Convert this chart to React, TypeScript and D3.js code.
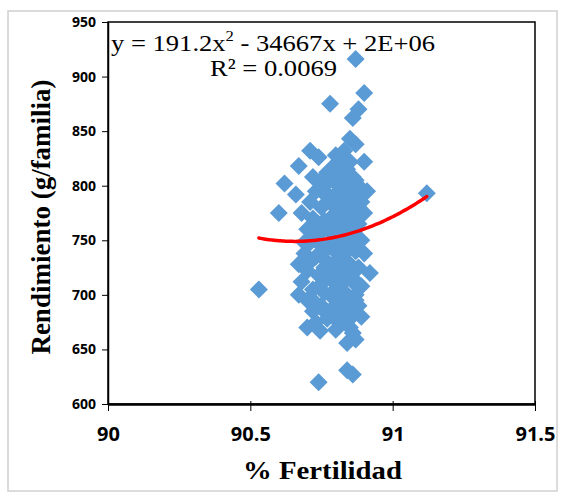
import React, { useEffect, useRef } from "react";
import * as d3 from "d3";

// % Fertilidad (x) vs Rendimiento g/familia (y)
const fertilidad = [
  90.87, 90.78, 90.9, 90.88, 90.86, 90.85, 90.87, 90.83, 90.71, 90.74, 90.9, 90.67, 90.8, 90.84, 90.77,
  90.62, 90.66, 90.6, 90.68, 90.72, 90.76, 90.79, 90.82, 90.86, 90.88, 90.91, 90.73, 90.78, 90.81, 90.84,
  90.87, 90.89, 90.71, 90.75, 90.79, 90.83, 90.86, 90.9, 90.72, 90.76, 90.8, 90.84, 90.88, 90.7, 90.74,
  90.78, 90.82, 90.86, 90.89, 90.71, 90.75, 90.79, 90.83, 90.87, 90.9, 90.69, 90.73, 90.77, 90.81, 90.85,
  90.88, 90.92, 90.67, 90.7, 90.74, 90.78, 90.82, 90.86, 90.89, 90.68, 90.72, 90.76, 90.8, 90.84, 90.87,
  90.67, 90.7, 90.75, 90.79, 90.83, 90.86, 90.89, 90.72, 90.77, 90.81, 90.85, 90.7, 90.745, 90.73, 90.84,
  90.87, 90.86, 90.74, 90.84, 90.86, 90.53, 91.12, 90.82, 90.85, 90.81, 90.83, 90.8, 90.76, 90.78, 90.88,
  90.75, 90.8, 90.85, 90.81, 90.83, 90.85, 90.82, 90.84, 90.8, 90.86, 90.84, 90.82, 90.84, 90.86, 90.82,
  90.84, 90.86, 90.82, 90.84, 90.8, 90.78, 90.8, 90.77, 90.79, 90.81, 90.83, 90.85, 90.87, 90.88, 90.89,
  90.87, 90.83, 90.79, 90.81, 90.77, 90.74, 90.73, 90.76, 90.75, 90.78, 90.81, 90.84, 90.87, 90.82, 90.8,
  90.85, 90.88, 90.76, 90.72, 90.71, 90.69, 90.73,
];
const rendimiento = [
  916, 875, 885, 870, 862, 843, 838, 832, 832, 826, 822, 818, 820, 815, 812,
  802, 792, 775, 775, 808, 800, 805, 810, 808, 800, 795, 795, 790, 795, 798,
  790, 785, 785, 780, 782, 784, 778, 775, 770, 768, 772, 770, 765, 760, 755,
  758, 760, 755, 750, 748, 745, 742, 745, 740, 738, 738, 735, 730, 733, 728,
  725, 720, 728, 722, 718, 715, 718, 712, 708, 712, 705, 702, 705, 700, 695,
  700, 695, 690, 688, 690, 683, 680, 685, 678, 675, 670, 670, 667, 675, 656,
  659, 665, 620, 631, 627, 705, 793, 780, 790, 765, 725, 740, 725, 770, 710,
  805, 828, 822, 800, 805, 800, 790, 785, 785, 770, 760, 750, 740, 745, 735,
  730, 720, 710, 715, 720, 725, 750, 745, 760, 755, 770, 765, 760, 780, 795,
  805, 795, 815, 822, 790, 765, 750, 740, 710, 700, 695, 690, 700, 680, 668,
  678, 690, 685, 695, 730, 748, 760,
];

const xTicks = [90, 90.5, 91, 91.5];
const yTicks = [600, 650, 700, 750, 800, 850, 900, 950];

// polynomial trend (order 2) as printed: a, b; vertex height
const trendA = 191.2;
const trendB = -34667;
const trendMin = 749;

export default function App() {
  const ref = useRef<SVGSVGElement>(null);

  useEffect(() => {
    const svg = d3.select(ref.current);
    svg.selectAll("*").remove();

    const left = 108, right = 535, top = 22, bottom = 404;
    const x = d3.scaleLinear().domain([90, 91.5]).range([left, right]);
    const y = d3.scaleLinear().domain([600, 950]).range([bottom, top]);

    // outer frame
    svg.append("rect").attr("x", 8).attr("y", 11).attr("width", 549).attr("height", 480)
      .attr("fill", "white").attr("stroke", "#d0d0d0").attr("stroke-width", 1.5);

    // plot frame
    svg.append("rect").attr("x", left).attr("y", top).attr("width", right - left).attr("height", bottom - top)
      .attr("fill", "none").attr("stroke", "black").attr("stroke-width", 1.5);

    // y axis
    const yAxis = svg.append("g").attr("transform", `translate(${left},0)`)
      .call(d3.axisLeft(y).tickValues(yTicks).tickSize(6).tickSizeOuter(0).tickFormat(d3.format("d")));
    yAxis.select(".domain").attr("stroke", "black").attr("stroke-width", 1.5);
    yAxis.selectAll(".tick line").attr("stroke", "black");
    yAxis.selectAll(".tick text").attr("x", -12).attr("font-family", "'Open Sans', sans-serif")
      .attr("font-weight", "bold").attr("font-size", 14).attr("fill", "black");

    // x axis
    const xAxis = svg.append("g").attr("transform", `translate(0,${bottom})`)
      .call(d3.axisBottom(x).tickValues(xTicks).tickSize(7).tickSizeOuter(0).tickFormat((d) => String(d)));
    xAxis.select(".domain").attr("stroke", "black").attr("stroke-width", 2.5);
    xAxis.selectAll(".tick line").attr("stroke", "black").attr("y1", -3);
    xAxis.selectAll(".tick text").attr("y", 23).attr("font-family", "'Open Sans', sans-serif")
      .attr("font-weight", "bold").attr("font-size", 20).attr("fill", "black");

    // points
    const pts = fertilidad.map((f, i) => [f, rendimiento[i]]);
    const r = 9;
    svg.append("g").selectAll("path").data(pts).join("path")
      .attr("d", (d) => {
        const cx = x(d[0]), cy = y(d[1]);
        return `M${cx},${cy - r}L${cx + r},${cy}L${cx},${cy + r}L${cx - r},${cy}Z`;
      })
      .attr("fill", "#5b9bd5");

    // trend line
    const h = -trendB / (2 * trendA);
    const lo = d3.min(fertilidad)!, hi = d3.max(fertilidad)!;
    const xs = d3.range(101).map((i) => lo + (i / 100) * (hi - lo));
    const line = d3.line<number>().x((v) => x(v)).y((v) => y(trendA * (v - h) * (v - h) + trendMin));
    svg.append("path").attr("d", line(xs)).attr("fill", "none").attr("stroke", "#ff0000")
      .attr("stroke-width", 3.5).attr("stroke-linecap", "round");

    // equation
    const eq = svg.append("text").attr("x", 111).attr("y", 51).attr("font-family", "'Liberation Serif', serif")
      .attr("font-size", 24).attr("fill", "black")
      .attr("textLength", 324).attr("lengthAdjust", "spacingAndGlyphs");
    eq.append("tspan").text("y = 191.2x");
    eq.append("tspan").attr("font-size", 15).attr("dy", -10).text("2");
    eq.append("tspan").attr("dy", 10).text(" - 34667x + 2E+06");
    svg.append("text").attr("x", 210).attr("y", 76)
      .attr("font-family", "'Liberation Serif', serif").attr("font-size", 24).attr("fill", "black")
      .attr("textLength", 127).attr("lengthAdjust", "spacingAndGlyphs")
      .text("R² = 0.0069");

    // axis titles
    svg.append("text").attr("x", 243).attr("y", 479)
      .attr("font-family", "'Liberation Serif', serif").attr("font-weight", "bold").attr("font-size", 26)
      .attr("textLength", 159).attr("lengthAdjust", "spacingAndGlyphs")
      .text("% Fertilidad");
    svg.append("text").attr("transform", "translate(50,217) rotate(-90)").attr("text-anchor", "middle")
      .attr("font-family", "'Liberation Serif', serif").attr("font-weight", "bold").attr("font-size", 27)
      .text("Rendimiento (g/familia)");
  }, []);

  return (
    <svg ref={ref} width={565} height={498} style={{ position: "absolute", left: 0, top: 0, background: "white" }} />
  );
}
